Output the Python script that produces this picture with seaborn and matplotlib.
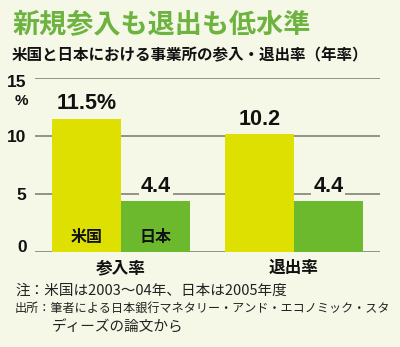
import matplotlib
matplotlib.use("Agg")
import matplotlib.pyplot as plt
import matplotlib.transforms as mtransforms
import seaborn as sns
import pandas as pd

categories = ["参入率", "退出率"]
countries = ["米国", "日本"]
us_values = [11.5, 10.2]
jp_values = [4.4, 4.4]
us_labels = ["11.5%", "10.2"]
jp_labels = ["4.4", "4.4"]
yticks = [0, 5, 10, 15]

BG = "#F5F7E7"
YELLOW = "#DDE000"
GREEN = "#6DB92E"
INK = "#111111"

df = pd.DataFrame({
    "cat": categories * 2,
    "country": [countries[0]] * 2 + [countries[1]] * 2,
    "value": us_values + jp_values,
})

sns.set_theme(style="white")
plt.rcParams["font.family"] = ["Noto Sans CJK JP", "DejaVu Sans"]
NUM_FAMILY = ["Liberation Sans", "DejaVu Sans"]

fig = plt.figure(figsize=(4.0, 3.47), dpi=100, facecolor=BG)
ax = fig.add_axes([0.0875, 0.274, 0.8625, 0.501])
ax.set_facecolor(BG)

sns.barplot(data=df, x="cat", y="value", hue="country", order=categories,
            hue_order=countries, palette=[YELLOW, GREEN], width=0.8,
            saturation=1, ax=ax, legend=False, zorder=3)
for p in ax.patches:
    p.set_edgecolor("none")

ax.set_ylim(0, 15)
ax.set_xlim(-0.5, 1.5)
ax.set_yticks(yticks)
ax.yaxis.grid(True, color="#8a8a80", linewidth=1.3, zorder=0)
ax.set_axisbelow(True)
for s in ax.spines.values():
    s.set_visible(False)
ax.tick_params(axis="y", length=0, pad=6)
ax.set_xticks(range(len(categories)))
ax.set_xticklabels(categories, fontsize=12, fontweight="bold", color=INK)
ax.tick_params(axis="x", length=0, pad=5)
ax.set_xlabel("")
ax.set_ylabel("")

fig.canvas.draw()
for lab, t in zip(ax.get_yticklabels(), yticks):
    lab.set_fontsize(12.5)
    lab.set_fontfamily(NUM_FAMILY)
    lab.set_fontweight("bold")
    lab.set_color(INK)
    if t == 15:
        lab.set_transform(lab.get_transform() + mtransforms.ScaledTranslation(0, -3 / 100, fig.dpi_scale_trans))
    if t == 0:
        lab.set_transform(lab.get_transform() + mtransforms.ScaledTranslation(0, 6 / 100, fig.dpi_scale_trans))

# "%" unit under 15
trans = mtransforms.blended_transform_factory(fig.transFigure, ax.transData)
ax.text(21 / 400, 13.0, "%", transform=trans, ha="center", va="center",
        fontsize=11, fontweight="bold", color=INK, family=NUM_FAMILY)

bbox = dict(boxstyle="square,pad=0.1", facecolor=BG, edgecolor="none")
for cont, labels in zip(ax.containers, [us_labels, jp_labels]):
    ax.bar_label(cont, labels=labels, padding=3, fontsize=15.5, bbox=bbox,
                 color=INK, family=NUM_FAMILY, weight="bold")

# country labels inside the first group's bars
for cont, name in zip(ax.containers, countries):
    bar = cont.patches[0]
    ax.text(bar.get_x() + bar.get_width() / 2, 1.25, name, ha="center",
            va="center", fontsize=11.5, fontweight="bold", color=INK, zorder=5)

fig.text(13 / 400, 1 - 25 / 347, "新規参入も退出も低水準", fontsize=19.5,
         fontweight="bold", color="#6DB33F", va="center", ha="left")
fig.text(12 / 400, 1 - 55 / 347, "米国と日本における事業所の参入・退出率（年率）",
         fontsize=11.2, fontweight="bold", color=INK, va="center", ha="left")

fig.text(15 / 400, 1 - 291 / 347, "注：米国は2003〜04年、日本は2005年度",
         fontsize=10.5, color="#222222", va="center", ha="left")
fig.text(15 / 400, 1 - 308 / 347, "出所：筆者による日本銀行マネタリー・アンド・エコノミック・スタ",
         fontsize=8.7, color="#222222", va="center", ha="left")
fig.text(52 / 400, 1 - 327 / 347, "ディーズの論文から",
         fontsize=10.5, color="#222222", va="center", ha="left")

fig.savefig("out.png", dpi=100, facecolor=BG)
